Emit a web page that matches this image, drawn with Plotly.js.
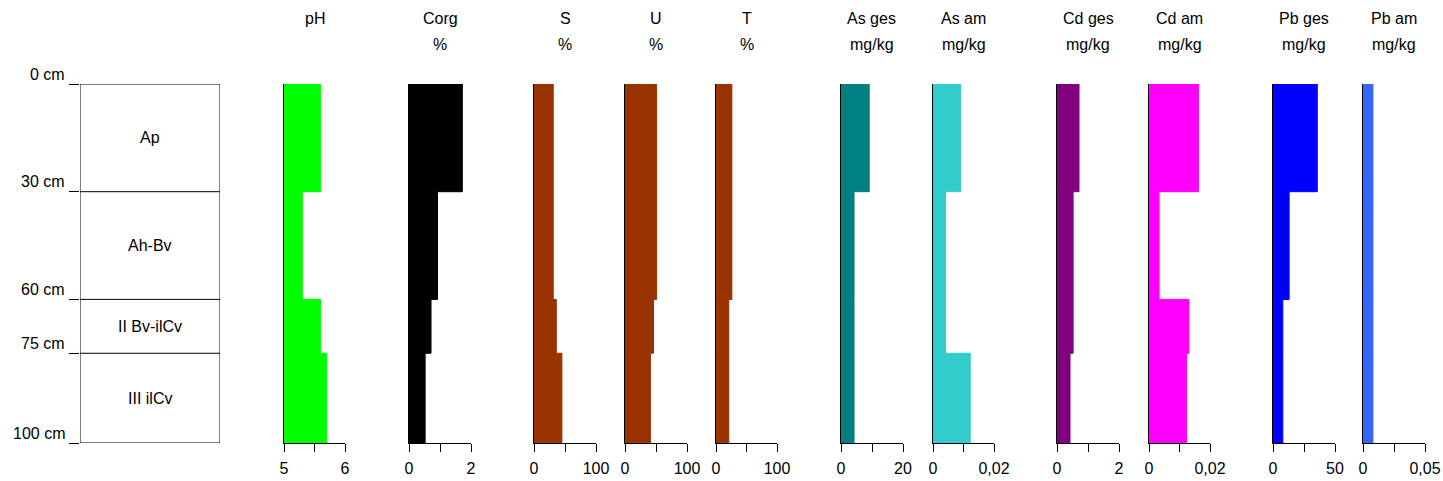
<!DOCTYPE html>
<html><head><meta charset="utf-8">
<script src="https://cdn.plot.ly/plotly-3.0.1.min.js"></script>
<style>html,body{margin:0;padding:0;background:#fff}#chart{width:1443px;height:481px}</style>
</head><body><div id="chart"></div>
<script>
// Horizons
const horizons = ["Ap", "Ah-Bv", "II Bv-ilCv", "III ilCv"];
const depthTop = [0, 30, 60, 75];
const depthBottom = [30, 60, 75, 100];
const depthTicks = [0, 30, 60, 75, 100];
const depthTickLabels = ["0 cm", "30 cm", "60 cm", "75 cm", "100 cm"];

// Parameters (titles, units)
const paramNames = ["pH", "Corg", "S", "U", "T", "As ges", "As am", "Cd ges", "Cd am", "Pb ges", "Pb am"];
const paramUnits = ["", "%", "%", "%", "%", "mg/kg", "mg/kg", "mg/kg", "mg/kg", "mg/kg", "mg/kg"];

// Values per horizon (Ap, Ah-Bv, II Bv-ilCv, III ilCv)
const pH     = [5.6, 5.3, 5.6, 5.7];
const Corg   = [1.72, 0.92, 0.71, 0.52];
const S      = [31, 31, 36, 45];
const U      = [51, 51, 46, 41];
const T      = [26, 26, 21, 21];
const AsGes  = [9.1, 4.2, 4.2, 4.2];
const AsAm   = [0.0091, 0.0041, 0.0041, 0.0122];
const CdGes  = [0.71, 0.52, 0.52, 0.42];
const CdAm   = [0.0162, 0.0033, 0.0131, 0.0123];
const PbGes  = [35.7, 13, 7.9, 7.9];
const PbAm   = [0.008, 0.008, 0.008, 0.008];

// Axis scales and tick labels
const axisMin = [5, 0, 0, 0, 0, 0, 0, 0, 0, 0, 0];
const axisMax = [6, 2, 100, 100, 100, 20, 0.02, 2, 0.02, 50, 0.05];
const tickLabelsMin = ["5", "0", "0", "0", "0", "0", "0", "0", "0", "0", "0"];
const tickLabelsMax = ["6", "2", "100", "100", "100", "20", "0,02", "2", "0,02", "50", "0,05"];

const series = [pH, Corg, S, U, T, AsGes, AsAm, CdGes, CdAm, PbGes, PbAm];
const colors = ["#00FF00", "#000000", "#993300", "#993300", "#993300", "#008080", "#33CCCC", "#800080", "#FF00FF", "#0000FF", "#3366FF"];

// Layout geometry (pixels)
const W = 1443, H = 481;
const panelPx = [[284,345],[409,471],[534,596],[625,687],[716,777],[841,903],[933,994],[1057,1119],[1149,1210],[1273,1335],[1363,1425]];
const horizonPx = [80, 220];
const yTopPx = 84, yBotPx = 443;
const yDomain = [1 - yBotPx / H, 1 - yTopPx / H];

const FONT = {family: "Liberation Sans, Arial, sans-serif", size: 16, color: "#000"};

const mids = depthTop.map((t, i) => (t + depthBottom[i]) / 2);
const thick = depthTop.map((t, i) => depthBottom[i] - t);

const data = [];
const layout = {
  width: W, height: H,
  margin: {l: 0, r: 0, t: 0, b: 0, pad: 0},
  paper_bgcolor: "#fff", plot_bgcolor: "#fff",
  showlegend: false, barmode: "overlay",
  font: FONT,
  annotations: [], shapes: []
};

// Horizon column (axis 1)
layout.xaxis = {domain: [horizonPx[0] / W, horizonPx[1] / W], range: [0, 1], showgrid: false, zeroline: false,
  showticklabels: false, ticks: "", showline: false, fixedrange: true};
layout.yaxis = {domain: yDomain, range: [100, 0], anchor: "x", showgrid: false, zeroline: false,
  showline: false, ticks: "outside", ticklen: 10, tickwidth: 1, tickcolor: "#000",
  tickvals: depthTicks, showticklabels: false, fixedrange: true};
data.push({type: "scatter", x: [0], y: [0], xaxis: "x", yaxis: "y", mode: "markers", marker: {opacity: 0}, hoverinfo: "skip"});
layout.shapes.push({type: "rect", xref: "x", yref: "y", x0: 0, x1: 1, y0: depthTop[0], y1: depthBottom[depthBottom.length - 1],
  line: {color: "#000", width: 1}, fillcolor: "rgba(0,0,0,0)"});
depthTop.slice(1).forEach(d => {
  layout.shapes.push({type: "line", xref: "x", yref: "y", x0: 0, x1: 1, y0: d, y1: d, line: {color: "#000", width: 1}});
});
horizons.forEach((h, i) => {
  layout.annotations.push({xref: "x", yref: "y", x: 0.5, y: mids[i], text: h, showarrow: false, font: FONT,
    xanchor: "center", yanchor: "middle"});
});
depthTicks.forEach((d, i) => {
  layout.annotations.push({xref: "paper", yref: "y", x: 67 / W, y: d, text: depthTickLabels[i], showarrow: false,
    font: FONT, xanchor: "right", yanchor: "middle", yshift: 10});
});

// Parameter panels
series.forEach((vals, k) => {
  const n = k + 2;
  const xa = "xaxis" + n, ya = "yaxis" + n;
  const lo = axisMin[k], hi = axisMax[k];
  layout[xa] = {domain: [panelPx[k][0] / W, panelPx[k][1] / W], range: [lo, hi], anchor: "y" + n,
    showgrid: false, zeroline: false, showline: true, linecolor: "#000", linewidth: 1,
    ticks: "outside", ticklen: 8, tickwidth: 1, tickcolor: "#000",
    tickvals: [lo, (lo + hi) / 2, hi], ticktext: [tickLabelsMin[k], "", tickLabelsMax[k]],
    tickfont: FONT, ticklabelstandoff: 3, fixedrange: true};
  layout[ya] = {domain: yDomain, range: [100, 0], anchor: "x" + n, showgrid: false, zeroline: false,
    showline: true, linecolor: "#000", linewidth: 1, ticks: "", showticklabels: false, fixedrange: true};
  data.push({type: "bar", orientation: "h", x: vals, y: mids, width: thick, xaxis: "x" + n, yaxis: "y" + n,
    marker: {color: colors[k], line: {width: 1, color: colors[k]}}, hoverinfo: "x+y"});
  const cx = (panelPx[k][0] + panelPx[k][1]) / 2 / W;
  layout.annotations.push({xref: "paper", yref: "paper", x: cx, y: 1 - 18 / H, text: paramNames[k], showarrow: false,
    font: FONT, xanchor: "center", yanchor: "middle"});
  if (paramUnits[k]) {
    layout.annotations.push({xref: "paper", yref: "paper", x: cx, y: 1 - 44 / H, text: paramUnits[k], showarrow: false,
      font: FONT, xanchor: "center", yanchor: "middle"});
  }
});

Plotly.newPlot("chart", data, layout, {displayModeBar: false, staticPlot: true});
</script>
</body></html>
